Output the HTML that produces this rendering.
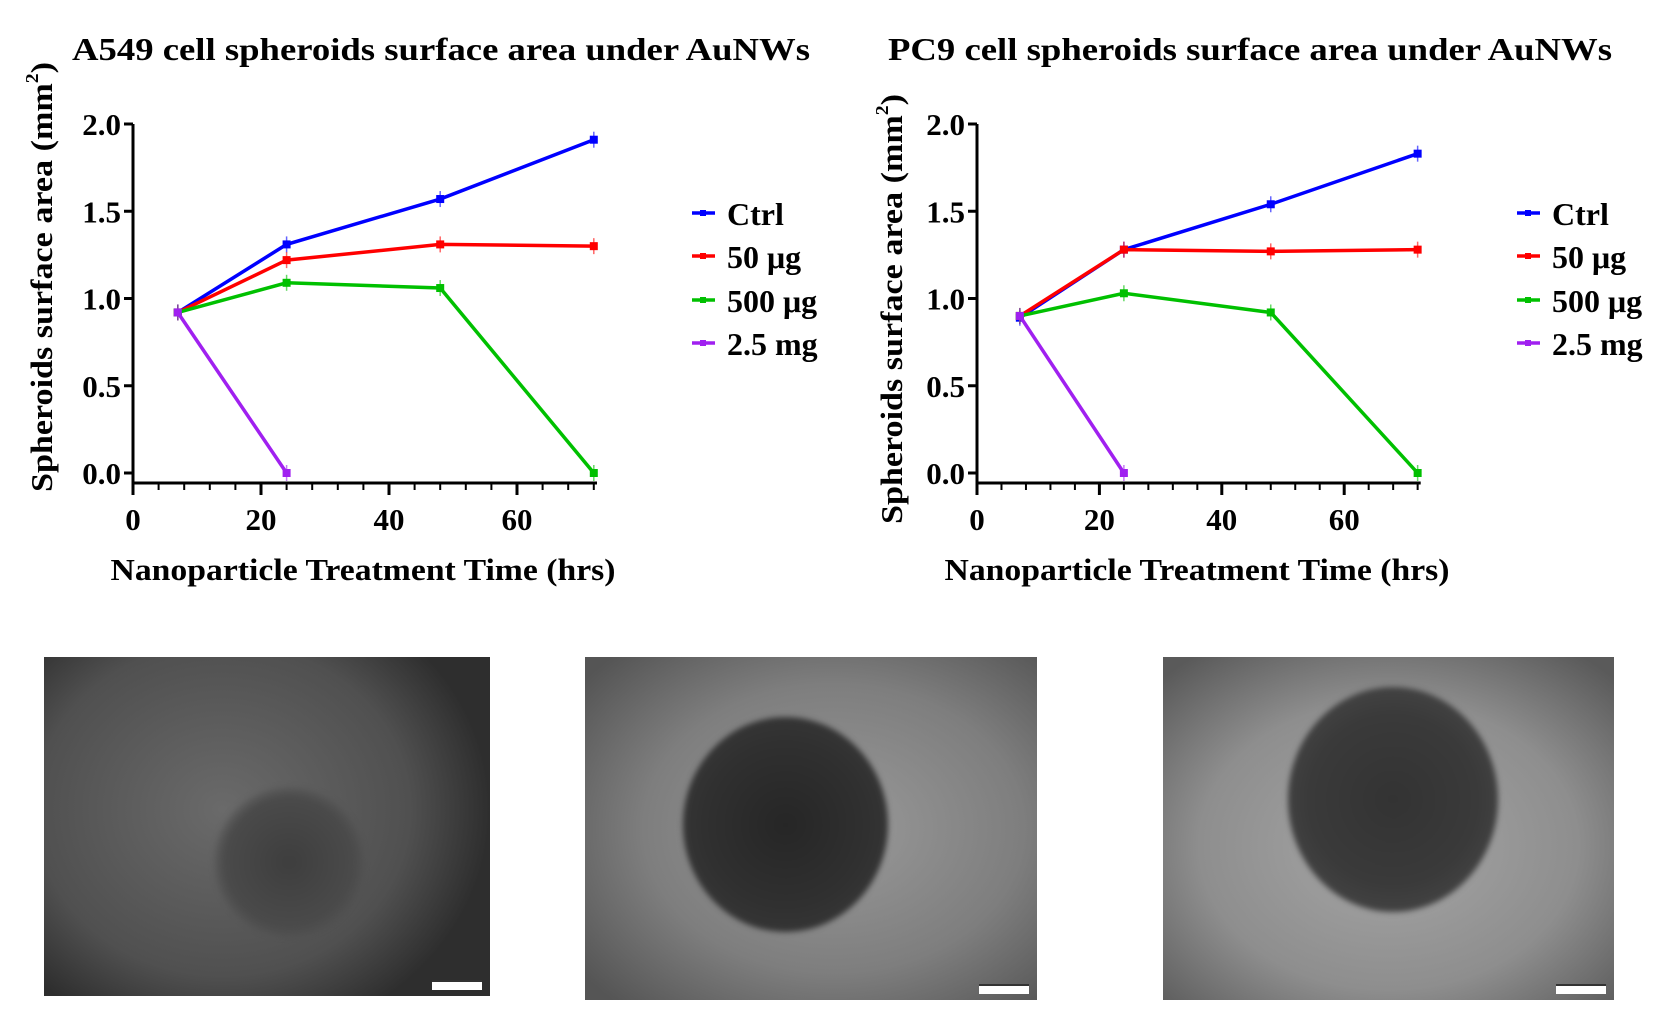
<!DOCTYPE html>
<html><head><meta charset="utf-8"><style>
html,body{margin:0;padding:0;background:#fff;}
body{width:1657px;height:1022px;position:relative;overflow:hidden;font-family:"Liberation Serif",serif;}
svg{position:absolute;left:0;top:0;}
.ph{position:absolute;overflow:hidden;}
.sb{position:absolute;background:#fff;border-top:2px solid #333;width:50px;height:8px;bottom:6px;right:8px;}
</style></head><body>
<div class="ph" style="left:44px;top:657px;width:446px;height:339px;background:radial-gradient(ellipse 60% 70% at 40% 45%,#6a6a6a,#505050 70%,#2e2e2e);">
 <div style="position:absolute;left:170px;top:130px;width:150px;height:150px;border-radius:50%;filter:blur(3px);background:radial-gradient(circle,#3e3e3e,#4a4a4a 60%,rgba(80,80,80,0) 75%);"></div>
 <div class="sb"></div></div>
<div class="ph" style="left:585px;top:657px;width:452px;height:343px;background:radial-gradient(ellipse 70% 70% at 55% 50%,#9a9a9a,#7e7e7e 60%,#555 100%);">
 <div style="position:absolute;left:98px;top:60px;width:205px;height:215px;border-radius:50%;filter:blur(3px);background:radial-gradient(circle,#262626,#303030 55%,#3a3a3a 90%,rgba(60,60,60,0) 100%);"></div>
 <div class="sb"></div></div>
<div class="ph" style="left:1163px;top:657px;width:451px;height:343px;background:radial-gradient(ellipse 70% 70% at 50% 55%,#a6a6a6,#8e8e8e 60%,#5a5a5a 100%);">
 <div style="position:absolute;left:125px;top:30px;width:210px;height:225px;border-radius:50%;filter:blur(3px);background:radial-gradient(circle,#333,#3a3a3a 55%,#4a4a4a 90%,rgba(80,80,80,0) 100%);"></div>
 <div class="sb"></div></div>
<svg id="s" width="1657" height="1022" xmlns="http://www.w3.org/2000/svg" font-family="Liberation Serif, serif" font-weight="bold"></svg>
<script>
const s=document.getElementById('s');let h='';
const C=['#0000ff','#ff0000','#00c000','#a020f0'];
function chart(ox,sx,title,tx,tw,ylx,yly,xlx,data,legx){
 const Y=v=>473-v*174.5,X=v=>ox+v*sx;
 h+=`<text x="${tx}" y="60" font-size="32" textLength="${tw}" lengthAdjust="spacingAndGlyphs">${title}</text>`;
 h+=`<line x1="${ox}" y1="124" x2="${ox}" y2="484" stroke="#000" stroke-width="3"/>`;
 h+=`<line x1="${ox-1}" y1="483" x2="${X(72.5)}" y2="483" stroke="#000" stroke-width="3"/>`;
 for(let v=0;v<=2.001;v+=0.5){h+=`<line x1="${ox-9}" y1="${Y(v)}" x2="${ox}" y2="${Y(v)}" stroke="#000" stroke-width="3"/><text x="${ox-12}" y="${Y(v)+11}" font-size="31" text-anchor="end">${v.toFixed(1)}</text>`;}
 for(let t=0;t<=72;t+=4){const big=t%20==0;h+=`<line x1="${X(t)}" y1="483" x2="${X(t)}" y2="${big?495:490}" stroke="#000" stroke-width="${big?3:2}"/>`;if(big)h+=`<text x="${X(t)}" y="530" font-size="31" text-anchor="middle">${t}</text>`;}
 h+=`<text transform="translate(${ylx},${yly}) rotate(-90)" font-size="31" text-anchor="middle" textLength="430" lengthAdjust="spacingAndGlyphs">Spheroids surface area (mm<tspan dy="-14" font-size="18">2</tspan><tspan dy="14">)</tspan></text>`;
 h+=`<text x="${xlx}" y="580" font-size="31" text-anchor="middle" textLength="505" lengthAdjust="spacingAndGlyphs">Nanoparticle Treatment Time (hrs)</text>`;
 data.forEach((d,i)=>{h+=`<polyline fill="none" stroke="${C[i]}" stroke-width="3.5" points="${d.map(p=>X(p[0])+','+Y(p[1])).join(' ')}"/>`;
  d.forEach(p=>{h+=`<line x1="${X(p[0])}" y1="${Y(p[1])-8}" x2="${X(p[0])}" y2="${Y(p[1])+8}" stroke="${C[i]}" stroke-width="1.5" opacity=".6"/><rect x="${X(p[0])-4}" y="${Y(p[1])-4}" width="8" height="8" fill="${C[i]}"/>`;});});
 const L=['Ctrl','50 μg','500 μg','2.5 mg'];
 [213,256,300,343].forEach((y,i)=>{h+=`<line x1="${legx}" y1="${y}" x2="${legx+23}" y2="${y}" stroke="${C[i]}" stroke-width="3.5"/><rect x="${legx+8}" y="${y-3}" width="6" height="6" fill="${C[i]}"/><text x="${legx+35}" y="${y+12}" font-size="32">${L[i]}</text>`;});
}
chart(133,6.4,'A549 cell spheroids surface area under AuNWs',72,738,52,277,363,
 [[[7,.92],[24,1.31],[48,1.57],[72,1.91]],[[7,.92],[24,1.22],[48,1.31],[72,1.30]],[[7,.92],[24,1.09],[48,1.06],[72,0]],[[7,.92],[24,0]]],692);
chart(977,6.12,'PC9 cell spheroids surface area under AuNWs',888,724,902,309,1197,
 [[[7,.89],[24,1.28],[48,1.54],[72,1.83]],[[7,.9],[24,1.28],[48,1.27],[72,1.28]],[[7,.9],[24,1.03],[48,.92],[72,0]],[[7,.9],[24,0]]],1517);
s.innerHTML=h;
</script>
</body></html>
